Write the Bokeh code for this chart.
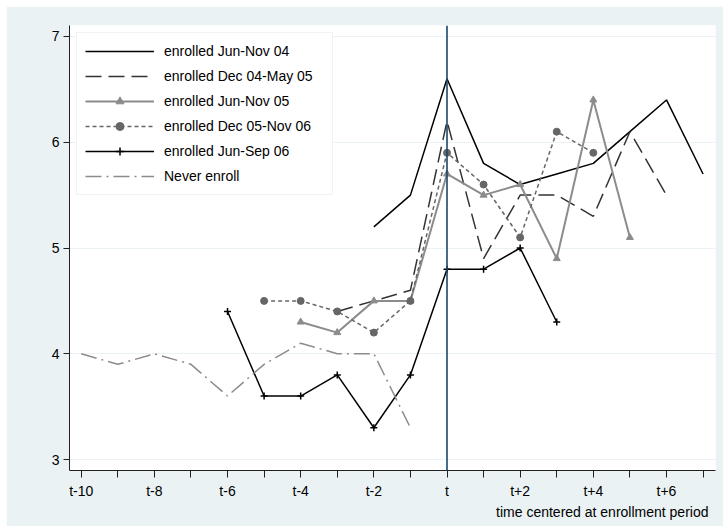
import math
from bokeh.plotting import figure
from bokeh.models import FixedTicker, Span, Title, Range1d
from bokeh.embed import file_html
from bokeh.resources import INLINE

nan = float("nan")

periods = list(range(-10, 8))
tick_labels = {k: ("t" if k == 0 else (f"t{k:+d}" if k % 2 == 0 else "")) for k in periods}

#                 -10  -9   -8   -7   -6   -5   -4   -3   -2   -1    0    1    2    3    4    5    6    7
jun_nov_04 = [nan, nan, nan, nan, nan, nan, nan, nan, 5.2, 5.5, 6.6, 5.8, 5.6, 5.7, 5.8, 6.1, 6.4, 5.7]
dec04_may05 = [nan, nan, nan, nan, nan, nan, nan, 4.4, 4.5, 4.6, 6.2, 4.9, 5.5, 5.5, 5.3, 6.1, 5.5, nan]
jun_nov_05 = [nan, nan, nan, nan, nan, nan, 4.3, 4.2, 4.5, 4.5, 5.7, 5.5, 5.6, 4.9, 6.4, 5.1, nan, nan]
dec05_nov06 = [nan, nan, nan, nan, nan, 4.5, 4.5, 4.4, 4.2, 4.5, 5.9, 5.6, 5.1, 6.1, 5.9, nan, nan, nan]
jun_sep_06 = [nan, nan, nan, nan, 4.4, 3.6, 3.6, 3.8, 3.3, 3.8, 4.8, 4.8, 5.0, 4.3, nan, nan, nan, nan]
never = [4.0, 3.9, 4.0, 3.9, 3.6, 3.9, 4.1, 4.0, 4.0, 3.3, nan, nan, nan, nan, nan, nan, nan, nan]

labels = ["enrolled Jun-Nov 04", "enrolled Dec 04-May 05", "enrolled Jun-Nov 05",
          "enrolled Dec 05-Nov 06", "enrolled Jun-Sep 06", "Never enroll"]

FONT = "Liberation Sans"
BG = "#eaf2f3"

p = figure(width=717, height=520, output_backend="svg", toolbar_location=None,
           x_range=Range1d(-10.32, 7.34), y_range=Range1d(2.896, 7.104),
           min_border_left=63, min_border_right=8, min_border_top=19, min_border_bottom=56)
p.margin = (6, 0, 0, 6)
p.border_fill_color = BG
p.background_fill_color = "white"
p.outline_line_color = None

p.xgrid.grid_line_color = None
p.ygrid.grid_line_color = BG
p.ygrid.grid_line_width = 1.2

p.add_layout(Span(location=0, dimension="height", line_color="#1a476f", line_width=1.6))

p.line(periods, jun_nov_04, line_color="black", line_width=1.5, legend_label=labels[0])
p.line(periods, dec04_may05, line_color="#333333", line_width=1.5, line_dash="16 7", legend_label=labels[1])
p.line(periods, jun_nov_05, line_color="#8c8c8c", line_width=2, legend_label=labels[2])
p.scatter(periods, jun_nov_05, marker="triangle", size=7, fill_color="#8c8c8c", line_color="#8c8c8c",
          legend_label=labels[2])
p.line(periods, dec05_nov06, line_color="#666666", line_width=1.5, line_dash="4 3", legend_label=labels[3])
p.scatter(periods, dec05_nov06, marker="circle", size=7, fill_color="#666666", line_color="#666666",
          legend_label=labels[3])
p.line(periods, jun_sep_06, line_color="black", line_width=1.5, legend_label=labels[4])
p.scatter(periods, jun_sep_06, marker="cross", size=7, line_color="black", line_width=1.5,
          legend_label=labels[4])
p.line(periods, never, line_color="#8c8c8c", line_width=1.5, line_dash="16 5 2 5", legend_label=labels[5])

for ax in (p.xaxis[0], p.yaxis[0]):
    ax.axis_line_color = "#222222"
    ax.major_tick_line_color = "#222222"
    ax.minor_tick_line_color = None
    ax.major_tick_in = 0
    ax.major_label_text_font = FONT
    ax.major_label_text_font_size = "14px"
    ax.major_label_text_color = "black"

p.xaxis.ticker = FixedTicker(ticks=periods)
p.xaxis.major_label_overrides = tick_labels
p.xaxis.major_tick_out = 7
p.xaxis.major_label_standoff = 5

p.yaxis.ticker = FixedTicker(ticks=[3, 4, 5, 6, 7])
p.yaxis.major_tick_out = 6
p.yaxis.major_label_standoff = 4

xt = Title(text="time centered at enrollment period", align="right", text_font=FONT,
           text_font_size="14px", text_font_style="normal", text_color="black", offset=7,
           standoff=0)
p.add_layout(xt, "below")

lg = p.legend[0]
lg.location = "top_left"
lg.margin = 7
lg.padding = 8
lg.spacing = 5
lg.glyph_width = 69
lg.glyph_height = 20
lg.label_height = 20
lg.label_width = 160
lg.label_standoff = 10
lg.label_text_font = FONT
lg.label_text_font_size = "14px"
lg.label_text_color = "black"
lg.border_line_color = "#dfe8ea"
lg.background_fill_color = "white"
lg.background_fill_alpha = 1

open("out.html", "w").write(file_html(p, INLINE))
